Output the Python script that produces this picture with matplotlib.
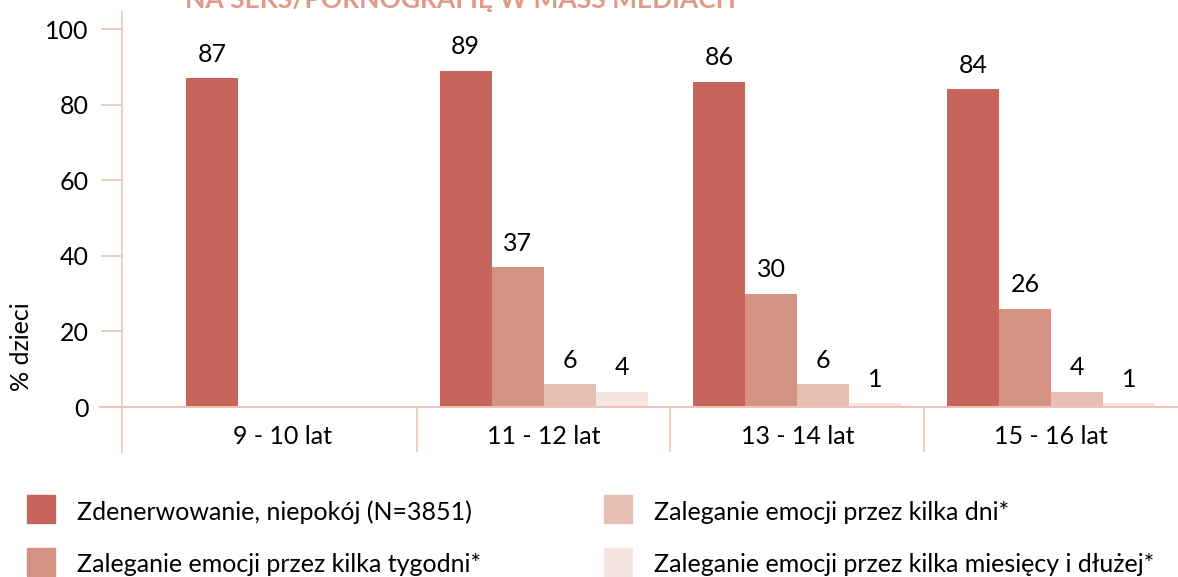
import matplotlib.pyplot as plt
import numpy as np

# data
age_groups = ["9 - 10 lat", "11 - 12 lat", "13 - 14 lat", "15 - 16 lat"]
series_names = [
    "Zdenerwowanie, niepokój (N=3851)",
    "Zaleganie emocji przez kilka tygodni*",
    "Zaleganie emocji przez kilka dni*",
    "Zaleganie emocji przez kilka miesięcy i dłużej*",
]
nervous = [87, 89, 86, 84]
weeks = [np.nan, 37, 30, 26]
days = [np.nan, 6, 6, 4]
months = [np.nan, 4, 1, 1]

colors = ["#C7655A", "#D59383", "#E7BFB4", "#F6E6E2"]
line_col = "#EFC3B7"

plt.rcParams["font.family"] = ["Lato", "DejaVu Sans"]

fig = plt.figure(figsize=(11.78, 5.77), dpi=100)
ax = fig.add_axes([122 / 1178, 1 - 452 / 577, 1 - 122 / 1178, 440 / 577])

x = np.arange(len(age_groups))
w = 0.205
all_series = [nervous, weeks, days, months]
for i, vals in enumerate(all_series):
    pos = x + (i - 1.5) * w
    ax.bar(pos, vals, width=w, color=colors[i], label=series_names[i], zorder=2)
    for p, v in zip(pos, vals):
        if not np.isnan(v):
            ax.annotate(f"{v:.0f}", (p, v), xytext=(0, 9), textcoords="offset points",
                        ha="center", va="bottom", fontsize=18)

ax.set_xlim(-0.5 - 41 / 254, 3.5)
ax.set_ylim(-11.9, 104.5)
ax.set_yticks([0, 20, 40, 60, 80, 100])
ax.set_xticks([])
ax.tick_params(axis="y", length=15, width=1.2, color=line_col, labelsize=18, pad=9)

for s in ["top", "right", "bottom"]:
    ax.spines[s].set_visible(False)
ax.spines["left"].set_color(line_col)
ax.spines["left"].set_linewidth(1.2)

# zero line reaching a bit left of the axis, and group separators
ax.plot([-0.75, 3.5], [0, 0], color=line_col, lw=1.5, clip_on=False, zorder=3)
ax.vlines([0.5, 1.5, 2.5], -11.9, 0, color=line_col, lw=1.2)
for xi, lab in zip(x, age_groups):
    ax.text(xi - (0.03 if xi == 0 else 0), -7.9, lab, ha="center", va="center", fontsize=18)

fig.text(22 / 1178, 1 - 347 / 577, "% dzieci", rotation=90, ha="center", va="center", fontsize=18)

# title is cut by the top edge in the reference
fig.text(185 / 1178, 1 - 0 / 577, "NA SEKS/PORNOGRAFIĘ W MASS MEDIACH", ha="left", va="center",
         fontsize=19, fontweight="bold", color="#DF9A89")

# legend drawn by hand in two columns
legend_pos = [(27, 495), (27, 548), (604, 495), (604, 548)]
for k, (lx, ly) in enumerate(legend_pos):
    fig.patches.append(plt.Rectangle((lx / 1178, 1 - (ly + 28) / 577), 28 / 1178, 28 / 577,
                                     transform=fig.transFigure, color=colors[k]))
    fig.text((lx + 50) / 1178, 1 - (ly + 17) / 577, series_names[k], ha="left", va="center", fontsize=18)

plt.savefig("out.png", dpi=100)
